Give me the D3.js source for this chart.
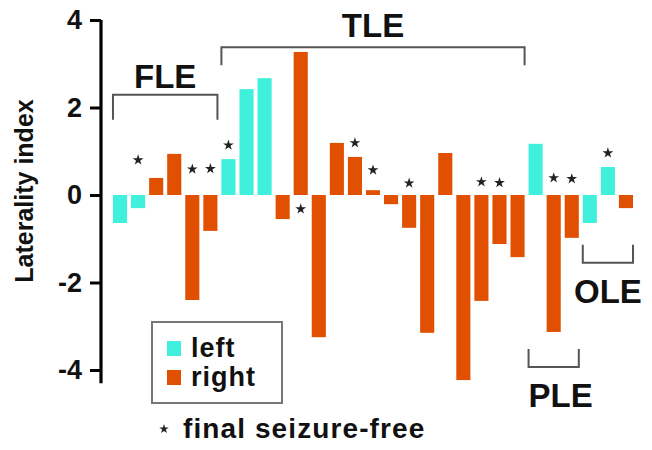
<!DOCTYPE html>
<html>
<head>
<meta charset="utf-8">
<script src="https://cdn.jsdelivr.net/npm/d3@7"></script>
<style>
  body { margin: 0; background: #fff; }
  svg { display: block; font-family: "Liberation Sans", Arial, sans-serif; font-weight: bold; }
</style>
</head>
<body>
<svg id="chart" width="652" height="450"></svg>
<script>
// patients in plot order
const side = ['L', 'L', 'R', 'R', 'R', 'R', 'L', 'L', 'L', 'R', 'R', 'R', 'R', 'R', 'R',
  'R', 'R', 'R', 'R', 'R', 'R', 'R', 'R', 'L', 'R', 'R', 'L', 'L', 'R']
const laterality = [-0.64, -0.30, 0.39, 0.94, -2.40, -0.82, 0.82, 2.42, 2.67, -0.55, 3.27, -3.25, 1.19, 0.87, 0.11,
  -0.21, -0.75, -3.15, 0.96, -4.23, -2.42, -1.12, -1.42, 1.17, -3.13, -0.98, -0.64, 0.64, -0.30]
// star (final seizure-free) level in index units, null = none
const starAt = [null, 0.8, null, null, 0.59, 0.6, 1.14, null, null, null, -0.32, null, null, 1.19, 0.57,
  null, 0.27, null, null, null, 0.3, 0.28, null, null, 0.39, 0.37, null, 0.96, null]
const yTicks = [4, 2, 0, -2, -4]

// epilepsy groups: first / last bar index, bracket level, bracket opens down (1) or up (-1)
const groupNames = ['FLE', 'TLE', 'PLE', 'OLE']
const groupFirst = [0, 6, 23, 26]
const groupLast = [5, 22, 25, 28]
const groupLevel = [2.29, 3.38, -3.93, -1.55]
const groupDir = [1, 1, -1, -1]

const colors = { L: '#40F0DC', R: '#E05000' }

let svg = d3.select('#chart')
let idx = d3.range(laterality.length)

let x = d3.scaleBand()
  .domain(idx)
  .range([111, 635])
  .paddingInner(0.22)
  .paddingOuter(0.11)
let y = d3.scaleLinear()
  .domain([-4, 4])
  .range([370, 20])

// bars
svg.append('g')
  .selectAll('rect')
  .data(idx)
  .enter().append('rect')
  .attr('x', i => x(i))
  .attr('width', x.bandwidth())
  .attr('y', i => y(Math.max(0, laterality[i])))
  .attr('height', i => Math.abs(y(laterality[i]) - y(0)))
  .attr('fill', i => colors[side[i]])

// stars
let star = d3.symbol().type(d3.symbolStar).size(36)
svg.append('g')
  .selectAll('path')
  .data(idx.filter(i => starAt[i] !== null))
  .enter().append('path')
  .attr('d', star)
  .attr('transform', i => `translate(${x(i) + x.bandwidth() / 2},${y(starAt[i])})`)
  .attr('fill', '#222')

// y axis
let axis = svg.append('g')
  .attr('transform', 'translate(101,0)')
  .call(d3.axisLeft(y).tickValues(yTicks).tickFormat(d => String(d)).tickSize(11).tickPadding(8).tickSizeOuter(0))
axis.select('.domain')
  .attr('d', `M0,${y(4)}V${y(-4.3)}`)
  .attr('stroke-width', 3.2)
axis.selectAll('.tick line').attr('stroke-width', 3)
axis.selectAll('.tick text')
  .attr('font-size', 27)
  .attr('font-family', '"Liberation Sans", Arial, sans-serif')
  .attr('font-weight', 'bold')
  .attr('fill', '#111')

svg.append('text')
  .attr('transform', `translate(33,${y(0) - 4}) rotate(-90)`)
  .attr('text-anchor', 'middle')
  .attr('font-size', 25)
  .attr('fill', '#111')
  .text('Laterality index')

// group brackets
groupNames.forEach((name, g) => {
  let x0 = x(groupFirst[g])
  let x1 = x(groupLast[g]) + x.bandwidth()
  let yy = y(groupLevel[g])
  let leg = groupDir[g] * (g === 0 ? 25 : 18)
  svg.append('path')
    .attr('d', `M${x0},${yy + leg}V${yy}H${x1}V${yy + leg}`)
    .attr('fill', 'none')
    .attr('stroke', '#555')
    .attr('stroke-width', 2)
  svg.append('text')
    .attr('x', name === 'PLE' ? x0 : (x0 + x1) / 2)
    .attr('y', groupDir[g] > 0 ? yy - (g === 0 ? 7 : 10) : yy + 40)
    .attr('text-anchor', name === 'PLE' ? 'start' : 'middle')
    .attr('font-size', 33)
    .attr('fill', '#111')
    .text(name)
})

// legend
let legend = svg.append('g')
legend.append('rect')
  .attr('x', 152).attr('y', 322)
  .attr('width', 130).attr('height', 81)
  .attr('fill', 'none')
  .attr('stroke', '#777')
  .attr('stroke-width', 2)
let legendItems = [['L', 'left'], ['R', 'right']]
legendItems.forEach((d, i) => {
  legend.append('rect')
    .attr('x', 167).attr('y', 341 + i * 29)
    .attr('width', 14).attr('height', 15)
    .attr('fill', colors[d[0]])
  legend.append('text')
    .attr('x', 191).attr('y', 357 + i * 29)
    .attr('font-size', 27)
    .attr('letter-spacing', 1)
    .attr('fill', '#111')
    .text(d[1])
})
legend.append('path')
  .attr('d', d3.symbol().type(d3.symbolStar).size(28))
  .attr('transform', 'translate(164,429)')
  .attr('fill', '#222')
legend.append('text')
  .attr('x', 183).attr('y', 438)
  .attr('font-size', 28)
  .attr('letter-spacing', 1.1)
  .attr('fill', '#111')
  .text('final seizure-free')
</script>
</body>
</html>
